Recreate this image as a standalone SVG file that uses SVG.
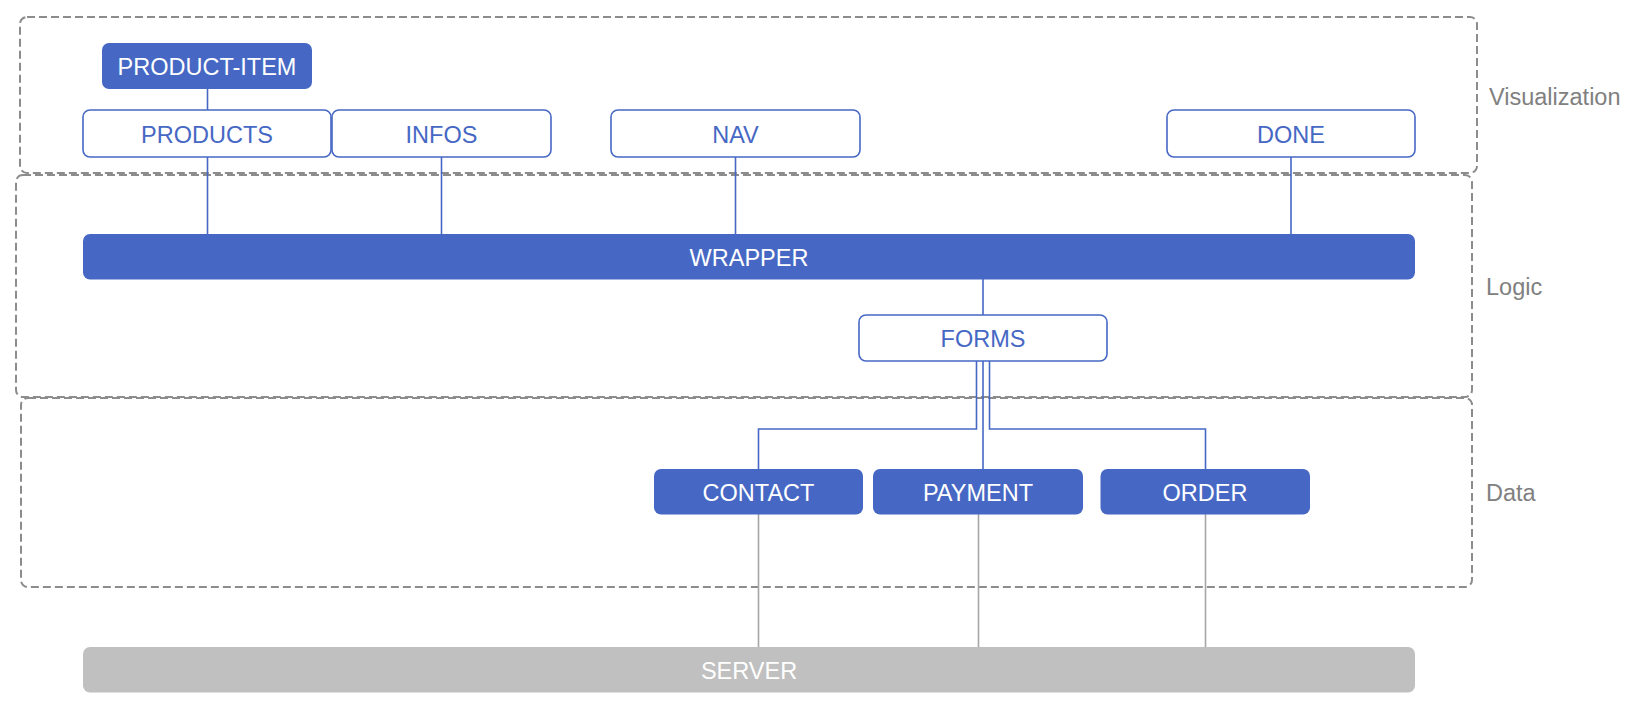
<svg xmlns="http://www.w3.org/2000/svg" width="1646" height="710" viewBox="0 0 1646 710">
<style>
.layer{fill:none;stroke:#8c8c8c;stroke-width:2;stroke-dasharray:8 4}
.lbl{font-family:"Liberation Sans",Arial,sans-serif;font-size:23.5px;fill:#808080}
.solid{fill:#4668C4;stroke:none}
.outline{fill:#ffffff;stroke:#4668C4;stroke-width:1.6}
.srv{fill:#C0C0C0;stroke:none}
.t{font-family:"Liberation Sans",Arial,sans-serif;font-size:23.5px;text-anchor:middle}
.tw{fill:#ffffff}
.tb{fill:#4668C4}
.cb{fill:none;stroke:#4668C4;stroke-width:1.6}
.cg{fill:none;stroke:#a6a6a6;stroke-width:1.6}
</style>
<rect width="1646" height="710" fill="#ffffff"/>
<g id="layers">
<rect class="layer" x="20" y="17" width="1457" height="156" rx="7"/>
<rect class="layer" x="16" y="175" width="1456" height="222" rx="7"/>
<rect class="layer" x="21" y="398" width="1451" height="189" rx="7"/>
<text class="lbl" x="1489" y="105">Visualization</text>
<text class="lbl" x="1486" y="295">Logic</text>
<text class="lbl" x="1486" y="501">Data</text>
</g>
<g id="connectors">
<path class="cb" d="M207.5 89V110"/>
<path class="cb" d="M207.5 157V234"/>
<path class="cb" d="M441.5 157V234"/>
<path class="cb" d="M735.5 157V234"/>
<path class="cb" d="M1291 157V234"/>
<path class="cb" d="M983 279V315"/>
<path class="cb" d="M976.5 361V429H758.5V469"/>
<path class="cb" d="M983 361V469"/>
<path class="cb" d="M989.5 361V429H1205.5V469"/>
<path class="cg" d="M758.5 514V647"/>
<path class="cg" d="M978.5 514V647"/>
<path class="cg" d="M1205.5 514V647"/>
</g>
<g id="product-item">
<rect class="solid" x="102" y="43" width="210" height="46" rx="7"/>
<text class="t tw" x="207" y="74.5">PRODUCT-ITEM</text>
</g>
<g id="products">
<rect class="outline" x="83" y="110" width="248" height="47" rx="7"/>
<text class="t tb" x="207" y="142.5">PRODUCTS</text>
</g>
<g id="infos">
<rect class="outline" x="332" y="110" width="219" height="47" rx="7"/>
<text class="t tb" x="441.5" y="142.5">INFOS</text>
</g>
<g id="nav">
<rect class="outline" x="611" y="110" width="249" height="47" rx="7"/>
<text class="t tb" x="735.5" y="142.5">NAV</text>
</g>
<g id="done">
<rect class="outline" x="1167" y="110" width="248" height="47" rx="7"/>
<text class="t tb" x="1291" y="142.5">DONE</text>
</g>
<g id="wrapper">
<rect class="solid" x="83" y="234" width="1332" height="45.5" rx="7"/>
<text class="t tw" x="749" y="265.5">WRAPPER</text>
</g>
<g id="forms">
<rect class="outline" x="859" y="315" width="248" height="46" rx="7"/>
<text class="t tb" x="983" y="346.5">FORMS</text>
</g>
<g id="contact">
<rect class="solid" x="654" y="469" width="209" height="45.5" rx="7"/>
<text class="t tw" x="758.5" y="500.5">CONTACT</text>
</g>
<g id="payment">
<rect class="solid" x="873" y="469" width="210" height="45.5" rx="7"/>
<text class="t tw" x="978" y="500.5">PAYMENT</text>
</g>
<g id="order">
<rect class="solid" x="1100.5" y="469" width="209.5" height="45.5" rx="7"/>
<text class="t tw" x="1205" y="500.5">ORDER</text>
</g>
<g id="server">
<rect class="srv" x="83" y="647" width="1332" height="45.5" rx="7"/>
<text class="t tw" x="749" y="678.5">SERVER</text>
</g>
</svg>
